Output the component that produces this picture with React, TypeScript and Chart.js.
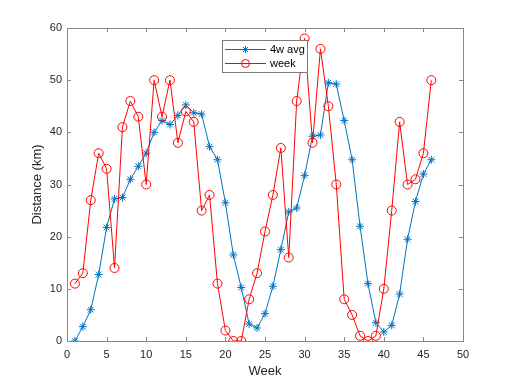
import React, { useEffect, useRef } from "react";
import { Chart, registerables } from "chart.js";

Chart.register(...registerables);

const weeks = [1,2,3,4,5,6,7,8,9,10,11,12,13,14,15,16,17,18,19,20,21,22,23,24,25,26,27,28,29,30,31,32,33,34,35,36,37,38,39,40,41,42,43,44,45,46];
const weekKm = [11,13,27,36,33,14,41,46,43,30,50,43,50,38,44,42,25,28,11,2,0,0,8,13,21,28,37,16,46,58,38,56,45,30,8,5,1,0,1,10,25,42,30,31,36,50];
const avgKm = [0,2.75,6,12.75,21.75,27.25,27.5,31,33.5,36,40,42.25,41.5,43.25,45.25,43.75,43.5,37.25,34.75,26.5,16.5,10.25,3.25,2.5,5.25,10.5,17.5,24.75,25.5,31.75,39.25,39.5,49.5,49.25,42.25,34.75,22,11,3.5,1.75,3,9,19.5,26.75,32,34.75];
const seriesNames = ["4w avg", "week"];
const xTitle = "Week";
const yTitle = "Distance (km)";

const BLUE = "#0072BD";
const RED = "#FF0000";
const AXIS = "#262626";
const FONT = "'Liberation Sans', Arial, sans-serif";

const matlabPlugin = {
  id: "matlabAxes",
  afterDraw(chart: any) {
    const { ctx, chartArea: a, scales } = chart;
    const xs = scales.x, ys = scales.y;
    ctx.save();
    ctx.strokeStyle = "#8a8a8a";
    ctx.lineWidth = 1;
    ctx.strokeRect(Math.round(a.left) + 0.5, Math.round(a.top) + 0.5, Math.round(a.right - a.left), Math.round(a.bottom - a.top));
    const tl = 4;
    ctx.beginPath();
    xs.ticks.forEach((t: any) => {
      const px = Math.round(xs.getPixelForValue(t.value)) + 0.5;
      ctx.moveTo(px, a.bottom); ctx.lineTo(px, a.bottom - tl);
      ctx.moveTo(px, a.top); ctx.lineTo(px, a.top + tl);
    });
    ys.ticks.forEach((t: any) => {
      const py = Math.round(ys.getPixelForValue(t.value)) + 0.5;
      ctx.moveTo(a.left, py); ctx.lineTo(a.left + tl, py);
      ctx.moveTo(a.right, py); ctx.lineTo(a.right - tl, py);
    });
    ctx.stroke();

    // titles
    ctx.fillStyle = AXIS;
    ctx.font = `13px ${FONT}`;
    ctx.textAlign = "center";
    ctx.textBaseline = "middle";
    ctx.fillText(xTitle, (a.left + a.right) / 2, 371);
    ctx.save();
    ctx.translate(37, (a.top + a.bottom) / 2);
    ctx.rotate(-Math.PI / 2);
    ctx.fillText(yTitle, 0, 0);
    ctx.restore();

    // legend
    const bx = 222.5, by = 40.5, bw = 85, bh = 32;
    ctx.fillStyle = "#ffffff";
    ctx.fillRect(bx, by, bw, bh);
    ctx.strokeStyle = "#7a7a7a";
    ctx.strokeRect(bx, by, bw, bh);
    const rows = [
      { y: 49, color: BLUE, name: seriesNames[0], star: true },
      { y: 63, color: RED, name: seriesNames[1], star: false },
    ];
    rows.forEach((r) => {
      ctx.strokeStyle = r.color;
      ctx.lineWidth = 1;
      ctx.beginPath();
      ctx.moveTo(225, r.y + 0.5); ctx.lineTo(266, r.y + 0.5);
      ctx.stroke();
      const cx = 245.5, cy = r.y + 0.5;
      ctx.beginPath();
      if (r.star) {
        const s = 3.5;
        for (let k = 0; k < 4; k++) {
          const ang = (k * Math.PI) / 4;
          ctx.moveTo(cx - s * Math.cos(ang), cy - s * Math.sin(ang));
          ctx.lineTo(cx + s * Math.cos(ang), cy + s * Math.sin(ang));
        }
      } else {
        ctx.arc(cx, cy, 4, 0, Math.PI * 2);
      }
      ctx.stroke();
      ctx.fillStyle = "#000000";
      ctx.font = `11px ${FONT}`;
      ctx.textAlign = "left";
      ctx.textBaseline = "middle";
      ctx.fillText(r.name, 270, r.y + 0.5);
    });
    ctx.restore();
  },
};

export default function App() {
  const ref = useRef<HTMLCanvasElement | null>(null);
  useEffect(() => {
    if (!ref.current) return;
    const chart = new Chart(ref.current, {
      type: "line",
      data: {
        datasets: [
          {
            label: seriesNames[0],
            data: weeks.map((w, i) => ({ x: w, y: avgKm[i] })),
            borderColor: BLUE,
            backgroundColor: "transparent",
            borderWidth: 1,
            pointStyle: "star",
            pointRadius: 4,
            pointBorderColor: BLUE,
            pointBorderWidth: 1,
            order: 2,
            tension: 0,
          },
          {
            label: seriesNames[1],
            data: weeks.map((w, i) => ({ x: w, y: weekKm[i] })),
            borderColor: RED,
            backgroundColor: "transparent",
            borderWidth: 1,
            pointStyle: "circle",
            pointRadius: 4.5,
            pointBorderColor: RED,
            pointBackgroundColor: "transparent",
            pointBorderWidth: 1,
            order: 1,
            tension: 0,
          },
        ],
      },
      options: {
        animation: false,
        responsive: false,
        maintainAspectRatio: false,
        layout: { padding: { top: 28, right: 49, left: 0, bottom: 0 } },
        plugins: { legend: { display: false }, tooltip: { enabled: false } },
        elements: { point: { hoverRadius: 4 } },
        scales: {
          x: {
            type: "linear",
            min: 0,
            max: 50,
            grid: { display: false, drawTicks: false },
            border: { display: false },
            ticks: { stepSize: 5, color: AXIS, font: { family: FONT, size: 11 }, padding: 7, maxRotation: 0 },
            afterFit: (s: any) => { s.height = 43; },
          },
          y: {
            type: "linear",
            min: 0,
            max: 60,
            grid: { display: false, drawTicks: false },
            border: { display: false },
            ticks: { stepSize: 10, color: AXIS, font: { family: FONT, size: 11 }, padding: 5 },
            afterFit: (s: any) => { s.width = 67; },
          },
        },
      },
      plugins: [matlabPlugin],
    });
    return () => chart.destroy();
  }, []);
  return (
    <div style={{ position: "fixed", left: 0, top: 0, width: 512, height: 384, background: "#fff" }}>
      <canvas ref={ref} width={512} height={384} style={{ width: 512, height: 384, display: "block" }} />
    </div>
  );
}
